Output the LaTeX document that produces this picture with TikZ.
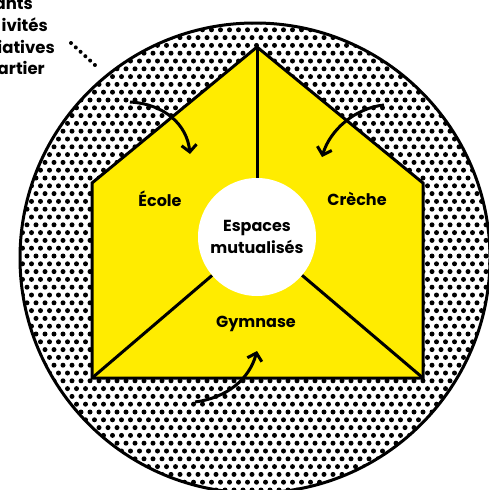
\documentclass[tikz,border=0pt]{standalone}
\usepackage{fontspec}
\setmainfont{Poppins}[BoldFont={Poppins Bold}]
\usetikzlibrary{arrows.meta}
\definecolor{jaune}{RGB}{255,236,0}
\tikzset{
  trait/.style={line width=3pt},
  fleche/.style={line width=3pt,-{Straight Barb[length=7pt,width=15pt,line width=3pt]}},
  lbl/.style={font=\fontsize{16}{19}\selectfont\bfseries,inner sep=0pt},
  coin/.style={font=\fontsize{16.5}{19}\selectfont\bfseries,inner sep=0pt,anchor=base east},
  mutual/.style={circle,fill=white,minimum size=118pt,inner sep=0pt,align=center,font=\fontsize{16}{22}\selectfont\bfseries}
}
\begin{document}
\begin{tikzpicture}[x=1pt,y=-1pt]
\useasboundingbox (0,0) rectangle (489,490);
\fill[white] (0,0) rectangle (489,490);
\begin{scope}
  \clip (255,258) circle (235pt);
  \foreach \j in {0,...,64} {
    \pgfmathsetmacro{\dx}{18+4.5*mod(\j,2)}
    \foreach \i in {0,...,53} {
      \fill (\dx+9*\i,22+7.8*\j) circle (2.5pt);
    }
  }
\end{scope}
\draw[trait] (255,258) circle (235pt);
\coordinate (apex) at (257,47);
\coordinate (sl) at (92,183);
\coordinate (sr) at (423,183);
\coordinate (bl) at (92,378);
\coordinate (br) at (423,378);
\filldraw[trait,fill=jaune,line join=miter] (apex) -- (sr) -- (br) -- (bl) -- (sl) -- cycle;
\node[mutual] (esp) at (257,237) {Espaces\\mutualisés};
\draw[trait] (esp) -- (apex);
\draw[trait] (esp) -- (bl);
\draw[trait] (esp) -- (br);
\node[lbl] (ecole) at (160,199) {École};
\node[lbl] (creche) at (357,199) {Crèche};
\node[lbl] (gym) at (256,324) {Gymnase};
\coordinate (a1s) at (130,102);
\coordinate (a1e) at (190,154);
\coordinate (a2s) at (384,105);
\coordinate (a2e) at (322,157);
\coordinate (a3s) at (195,402);
\coordinate (a3e) at (257,351);
\draw[fleche] (a1s) .. controls (165,104) and (187,125) .. (a1e);
\draw[fleche] (a2s) .. controls (355,108) and (330,130) .. (a2e);
\draw[fleche] (a3s) .. controls (226,398) and (249,380) .. (a3e);
\node[coin] (t1) at (33,9) {ants};
\node[coin] (t2) at (48,31) {ivités};
\node[coin] (t3) at (55,53) {iatives};
\node[coin] (t4) at (45,74) {artier};
\coordinate (lead1) at (71,43);
\coordinate (lead2) at (96,66);
\draw[line width=4pt,line cap=round,dash pattern=on 0pt off 6.5pt] (lead1) -- (lead2);
\end{tikzpicture}
\end{document}
